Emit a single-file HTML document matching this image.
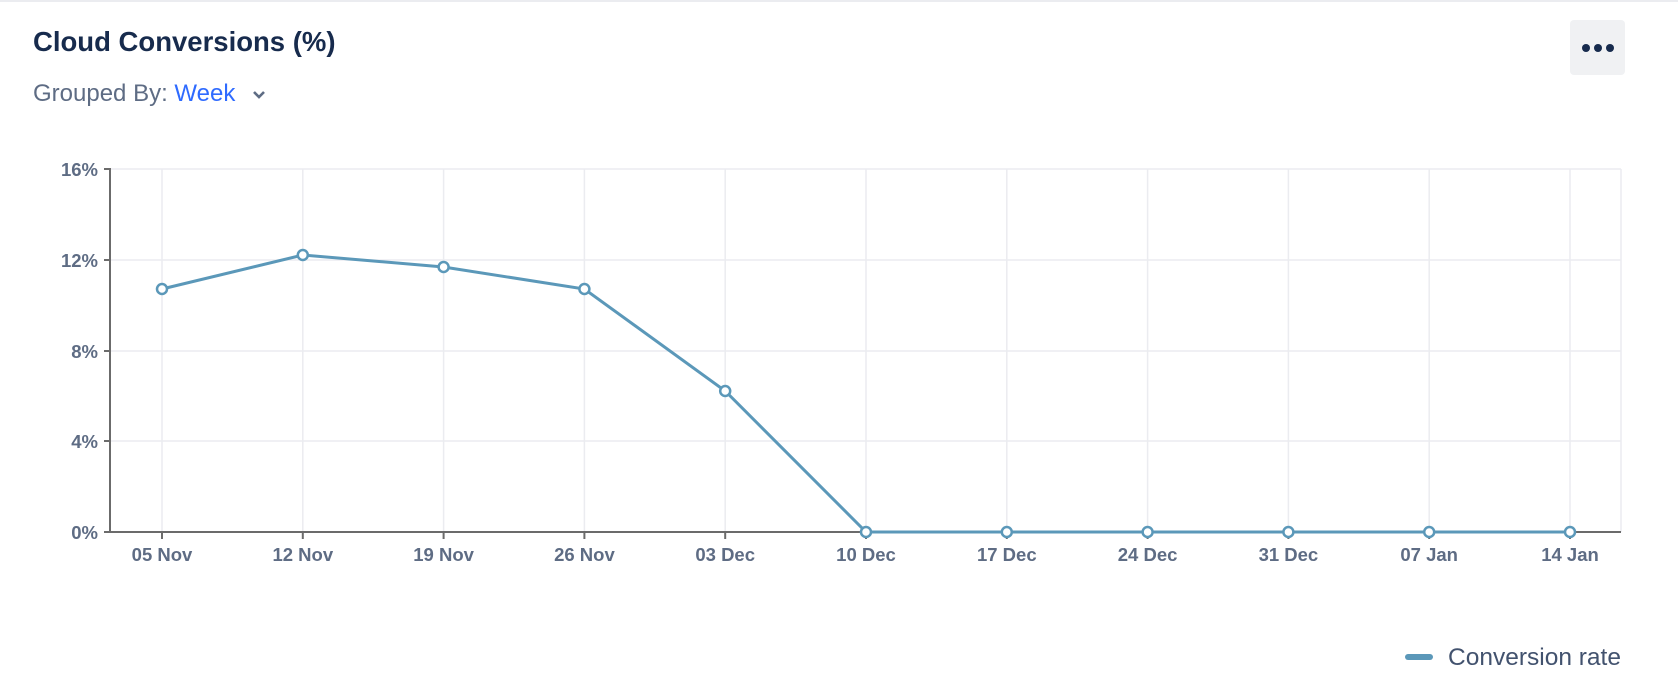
<!DOCTYPE html>
<html><head><style>
body{margin:0;width:1678px;height:682px;background:#fff;font-family:"Liberation Sans",sans-serif;overflow:hidden;position:relative}
.top{position:absolute;left:0;top:0;width:1678px;height:2px;background:#ebecf0}
.title{position:absolute;left:33px;top:26px;font-size:27.5px;font-weight:bold;color:#172b4d}
.grp{position:absolute;left:33px;top:80px;font-size:24px;color:#5e6c84}
.grp span{color:#2f6bff}
.btn{position:absolute;left:1570px;top:20px;width:55px;height:55px;background:#f0f1f3;border-radius:4px}
</style></head><body>
<div class="top"></div>
<div class="title">Cloud Conversions (%)</div>
<div class="grp">Grouped By: <span>Week</span> <svg width="18" height="12" style="margin-left:8px" viewBox="0 0 18 12"><path d="M4 3 L9 8 L14 3" stroke="#5e6c84" stroke-width="2.6" fill="none"/></svg></div>
<div class="btn"><svg width="55" height="55"><circle cx="16" cy="28" r="4" fill="#172b4d"/><circle cx="28" cy="28" r="4" fill="#172b4d"/><circle cx="40" cy="28" r="4" fill="#172b4d"/></svg></div>
<svg width="1678" height="682" style="position:absolute;left:0;top:0" font-family="Liberation Sans, sans-serif">
<g stroke="#ebecf0" stroke-width="1.5">
<line x1="110" y1="169" x2="1621" y2="169"/><line x1="110" y1="260" x2="1621" y2="260"/><line x1="110" y1="351" x2="1621" y2="351"/><line x1="110" y1="441" x2="1621" y2="441"/>
<line x1="1621" y1="169" x2="1621" y2="532"/>
<line x1="162" y1="169" x2="162" y2="532"/><line x1="302.8" y1="169" x2="302.8" y2="532"/><line x1="443.6" y1="169" x2="443.6" y2="532"/><line x1="584.4" y1="169" x2="584.4" y2="532"/><line x1="725.2" y1="169" x2="725.2" y2="532"/><line x1="866" y1="169" x2="866" y2="532"/><line x1="1006.8" y1="169" x2="1006.8" y2="532"/><line x1="1147.6" y1="169" x2="1147.6" y2="532"/><line x1="1288.4" y1="169" x2="1288.4" y2="532"/><line x1="1429.2" y1="169" x2="1429.2" y2="532"/><line x1="1570" y1="169" x2="1570" y2="532"/>
</g>
<g stroke="#6b6b6b" stroke-width="2" fill="none">
<path d="M104 169 H110 V532 H1621"/>
<path d="M104 260H110M104 351H110M104 441H110M104 532H110"/>
<path d="M162 532v7M302.8 532v7M443.6 532v7M584.4 532v7M725.2 532v7M866 532v7M1006.8 532v7M1147.6 532v7M1288.4 532v7M1429.2 532v7M1570 532v7"/>
</g>
<g font-size="18.5" font-weight="bold" fill="#5e6c84" text-anchor="end">
<text x="98" y="176">16%</text><text x="98" y="267">12%</text><text x="98" y="358">8%</text><text x="98" y="448">4%</text><text x="98" y="539">0%</text>
</g>
<g font-size="18.5" font-weight="bold" fill="#5e6c84" text-anchor="middle">
<text x="162" y="561">05 Nov</text><text x="302.8" y="561">12 Nov</text><text x="443.6" y="561">19 Nov</text><text x="584.4" y="561">26 Nov</text><text x="725.2" y="561">03 Dec</text><text x="866" y="561">10 Dec</text><text x="1006.8" y="561">17 Dec</text><text x="1147.6" y="561">24 Dec</text><text x="1288.4" y="561">31 Dec</text><text x="1429.2" y="561">07 Jan</text><text x="1570" y="561">14 Jan</text>
</g>
<polyline fill="none" stroke="#5b98b9" stroke-width="3" points="162,289 302.8,255 443.6,267 584.4,289 725.2,391 866,532 1006.8,532 1147.6,532 1288.4,532 1429.2,532 1570,532"/>
<g fill="#fff" stroke="#5b98b9" stroke-width="2.5">
<circle cx="162" cy="289" r="5"/><circle cx="302.8" cy="255" r="5"/><circle cx="443.6" cy="267" r="5"/><circle cx="584.4" cy="289" r="5"/><circle cx="725.2" cy="391" r="5"/><circle cx="866" cy="532" r="5"/><circle cx="1006.8" cy="532" r="5"/><circle cx="1147.6" cy="532" r="5"/><circle cx="1288.4" cy="532" r="5"/><circle cx="1429.2" cy="532" r="5"/><circle cx="1570" cy="532" r="5"/>
</g>
<line x1="1408" y1="657" x2="1430" y2="657" stroke="#5b98b9" stroke-width="6" stroke-linecap="round"/>
<text x="1621" y="665" font-size="24.5" fill="#42526e" text-anchor="end">Conversion rate</text>
</svg>
</body></html>
